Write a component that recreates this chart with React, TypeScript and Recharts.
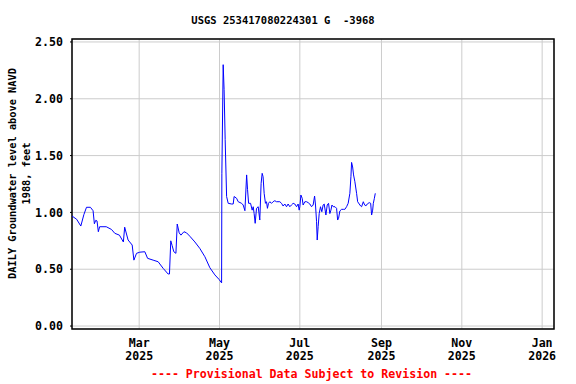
import { LineChart, Line, XAxis, YAxis, CartesianGrid, ReferenceArea } from "recharts";

// day of year 2025 (Jan 1 = 0) and daily groundwater level, ft above NAVD 1988
const obsDay = [
  8, 11.5, 14.7, 17, 19, 22, 24, 25, 26, 27, 28, 29, 34, 38, 40.5, 44, 47, 48, 50.6, 53.7,
  55, 57, 59.5, 63.3, 65.4, 69.6, 73.4, 77.2, 81, 82, 83, 84, 85.3, 86.9, 87.9, 89.4, 90.7,
  93, 95, 97.5, 101.3, 105, 108.9, 112.7, 116.5, 119.7, 121.6,
  121.8, 122.8, 123.5, 124.3, 125.4, 126.6, 129.2, 130.4, 131.1, 133, 134.2, 136.8, 138,
  139.3, 140.6, 141.3, 142.1, 143.6, 144.8, 145.6, 146.3, 147.1, 148.1, 149.4, 150.6, 151.6,
  152.4, 153.1, 153.9, 154.9, 155.7, 156.4, 157.2, 158.2, 159.5, 160.7, 162, 163.3, 165.8,
  167.1, 168.3, 169.6, 170.9, 172.1, 173.4, 174.6, 175.9, 177.2, 178.5, 179.7, 180.5, 181,
  181.8, 182.8, 183.5, 184.8, 186.1, 187.3, 188.6, 189.9, 191.1, 192.2, 192.9, 193.7, 194.2,
  194.9, 195.7, 196.7, 197.7, 198.7, 199.5, 200.8, 201.8, 202.8, 203.8, 204.6, 205.4, 206.4,
  207.7, 208.9, 209.7, 210.4, 211.4, 212.7, 214, 215.2, 216.5, 217.7, 219, 219.8, 220.3,
  221.1, 221.8, 222.8, 224.1, 224.9, 226.1, 227.2, 227.9, 229.2, 229.9, 231, 232.2, 233.7,
  234.8, 235.5, 236.3, 236.8, 237.6, 238.3,
];

const levelFt = [
  0.968, 0.94, 0.88, 0.98, 1.045, 1.045, 1.015, 0.9, 0.93, 0.925, 0.83, 0.874, 0.874, 0.85,
  0.816, 0.8, 0.74, 0.87, 0.757, 0.713, 0.58, 0.64, 0.65, 0.654, 0.596, 0.58, 0.566, 0.508,
  0.458, 0.458, 0.75, 0.71, 0.654, 0.64, 0.898, 0.82, 0.8, 0.83, 0.82, 0.79, 0.74, 0.684,
  0.61, 0.513, 0.45, 0.41, 0.38,
  1.34, 2.3, 2.08, 1.64, 1.14, 1.08, 1.074, 1.074, 1.14, 1.124, 1.094, 1.08, 1.065, 1.015,
  1.33, 1.2, 1.08, 1.08, 1.02, 1.05, 0.99, 0.904, 1.036, 1.05, 0.933, 1.256, 1.344, 1.314,
  1.168, 1.08, 1.094, 1.036, 1.08, 1.094, 1.08, 1.094, 1.103, 1.094, 1.094, 1.08, 1.056,
  1.074, 1.05, 1.074, 1.05, 1.065, 1.08, 1.074, 1.05, 1.074, 1.02, 1.05, 1.153, 1.124,
  1.065, 1.094, 1.094, 1.086, 1.074, 1.05, 1.065, 1.144, 1.065, 0.918, 0.757, 0.874, 0.99,
  1.05, 1.006, 1.065, 1.074, 0.977, 1.065, 1.08, 0.99, 1.02, 1.065, 1.05, 1.05, 1.036,
  0.933, 0.948, 1.013, 1.027, 1.027, 1.027, 1.05, 1.08, 1.168, 1.314, 1.44, 1.4, 1.33,
  1.27, 1.168, 1.094, 1.074, 1.056, 1.05, 1.094, 1.074, 1.056, 1.074, 1.086, 1.08, 0.977,
  1.02, 1.08, 1.124, 1.168,
];

const tickDays = [59, 120, 181, 243, 304, 365];
const tickMonths = ["Mar", "May", "Jul", "Sep", "Nov", "Jan"];
const tickYears = ["2025", "2025", "2025", "2025", "2025", "2026"];
const yTicks = [0, 0.5, 1, 1.5, 2, 2.5];

const X_MIN = 8;
const X_MAX = 374;
const Y_MIN = -0.026;
const Y_MAX = 2.526;

const FONT = "'DejaVu Sans Mono', 'Liberation Mono', monospace";

const data = obsDay.map((day, i) => ({ day, level: levelFt[i] }));

function MonthTick(props: any) {
  const { x, y, payload } = props;
  const i = tickDays.indexOf(payload.value);
  return (
    <g>
      <text x={x} y={y + 10} textAnchor="middle" fontFamily={FONT} fontWeight="bold" fontSize={11.6} fill="#000">
        {tickMonths[i]}
      </text>
      <text x={x} y={y + 23} textAnchor="middle" fontFamily={FONT} fontWeight="bold" fontSize={11.6} fill="#000">
        {tickYears[i]}
      </text>
    </g>
  );
}

export default function App() {
  return (
    <div style={{ position: "absolute", left: 0, top: 0, width: 576, height: 384, background: "#fff" }}>
      <LineChart width={576} height={384} data={data} margin={{ top: 39, right: 22, bottom: 25, left: 0 }}>
        <text x={283} y={24} textAnchor="middle" fontFamily={FONT} fontWeight="bold" fontSize={10.5} fill="#000" style={{ whiteSpace: "pre" }}>
          {"USGS 253417080224301 G  -3968"}
        </text>
        <text transform="translate(12,173.5) rotate(-90)" textAnchor="middle" dominantBaseline="central" fontFamily={FONT} fontWeight="bold" fontSize={10.3} fill="#000">
          DAILY Groundwater level above NAVD
        </text>
        <text transform="translate(26,173.5) rotate(-90)" textAnchor="middle" dominantBaseline="central" fontFamily={FONT} fontWeight="bold" fontSize={10.3} fill="#000">
          1988, feet
        </text>
        <text x={311.5} y={378} textAnchor="middle" fontFamily={FONT} fontWeight="bold" fontSize={11.6} fill="#ff0000">
          ---- Provisional Data Subject to Revision ----
        </text>
        <CartesianGrid stroke="#cccccc" strokeWidth={1} verticalPoints={undefined} />
        <XAxis
          type="number"
          dataKey="day"
          domain={[X_MIN, X_MAX]}
          ticks={tickDays}
          allowDataOverflow
          axisLine={false}
          tickLine={false}
          height={30}
          tick={<MonthTick />}
        />
        <YAxis
          type="number"
          domain={[Y_MIN, Y_MAX]}
          ticks={yTicks}
          allowDataOverflow
          width={72}
          axisLine={false}
          tickLine={{ stroke: "#000" }}
          tickSize={2}
          tickMargin={7}
          tickFormatter={(v: number) => v.toFixed(2)}
          tick={{ fontFamily: FONT, fontWeight: "bold", fontSize: 11.6, fill: "#000" }}
        />
        <Line
          type="linear"
          dataKey="level"
          stroke="#0000ff"
          strokeWidth={1}
          dot={false}
          isAnimationActive={false}
        />
        <ReferenceArea x1={X_MIN} x2={X_MAX} y1={Y_MIN} y2={Y_MAX} fill="none" stroke="#000" strokeWidth={1.5} fillOpacity={0} />
      </LineChart>
    </div>
  );
}
